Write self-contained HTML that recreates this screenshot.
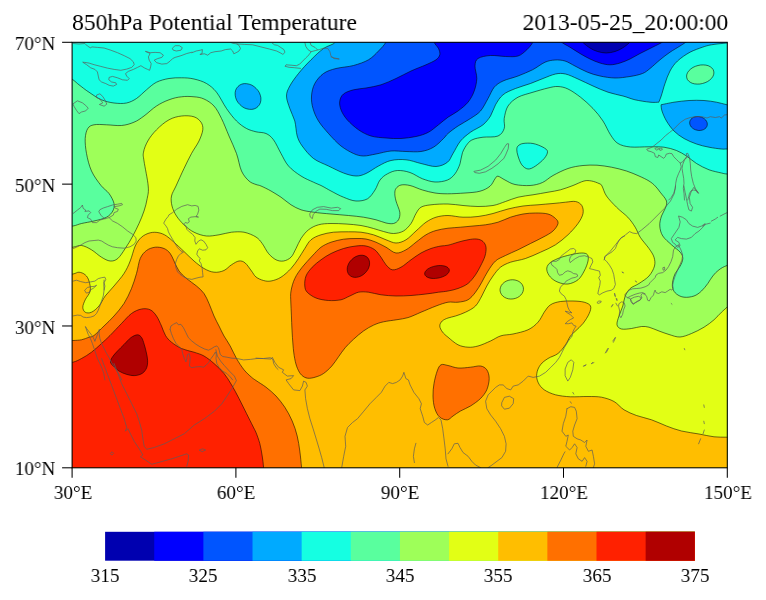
<!DOCTYPE html>
<html><head><meta charset="utf-8"><title>850hPa Potential Temperature</title>
<style>
html,body{margin:0;padding:0;background:#fff;}
body{width:766px;height:600px;position:relative;overflow:hidden;font-family:"Liberation Serif",serif;color:#000;}
svg{position:absolute;left:0;top:0;}
.t,.xl,.yl,.cl{will-change:transform;}
.xl,.cl{transform:scaleX(0.98);transform-origin:center center;}
.yl{transform:scaleX(0.98);transform-origin:right center;}
.t{position:absolute;font-size:24px;line-height:28px;white-space:nowrap;}
.xl{position:absolute;top:480.5px;width:100px;text-align:center;font-size:19.5px;line-height:24px;white-space:nowrap;}
.yl{position:absolute;left:0;width:55.4px;text-align:right;font-size:19.5px;line-height:24px;white-space:nowrap;}
.cl{position:absolute;top:563.8px;width:100px;text-align:center;font-size:19.5px;line-height:24px;white-space:nowrap;}
</style></head><body>
<svg width="766" height="600" viewBox="0 0 766 600">
<defs><clipPath id="cp"><rect x="72.1" y="42.3" width="655.1999999999999" height="425.5"/></clipPath></defs>
<g clip-path="url(#cp)">
<rect x="60" y="30" width="680" height="450" fill="#15FFE2"/>
<g stroke="#000" stroke-width="0.55" stroke-linejoin="round">
<path d="M60.0 70.0C62.2 71.6 69.8 77.3 73.0 79.8C76.2 82.2 76.3 82.7 79.0 84.8C81.7 86.8 85.2 89.8 89.0 92.2C92.8 94.8 97.3 98.0 101.5 99.8C105.7 101.5 109.8 102.5 114.0 103.0C118.2 103.5 122.8 103.8 126.5 103.0C130.2 102.2 133.2 100.7 136.5 98.5C139.8 96.3 143.2 92.5 146.5 89.8C149.8 87.0 152.8 84.1 156.5 82.2C160.2 80.4 164.8 79.2 169.0 78.5C173.2 77.8 177.3 77.7 181.5 77.8C185.7 77.8 189.8 78.0 194.0 79.0C198.2 80.0 202.8 81.3 206.5 83.5C210.2 85.7 213.2 88.1 216.5 92.2C219.8 96.4 223.2 103.7 226.5 108.5C229.8 113.3 233.2 117.7 236.5 121.0C239.8 124.3 243.2 126.7 246.5 128.5C249.8 130.3 252.8 130.9 256.0 131.8C259.2 132.6 263.1 132.2 266.0 133.5C268.9 134.8 271.0 136.4 273.5 139.8C276.0 143.1 278.5 149.1 281.0 153.5C283.5 157.9 285.2 162.2 288.5 166.0C291.8 169.8 296.8 173.3 301.0 176.0C305.2 178.7 310.0 180.6 313.5 182.2C317.0 183.9 319.1 184.5 322.0 186.0C324.9 187.5 327.4 189.1 331.0 191.0C334.6 192.9 339.3 195.6 343.5 197.2C347.7 198.9 352.0 200.8 356.0 201.0C360.0 201.2 364.3 200.6 367.5 198.8C370.7 196.9 372.9 193.1 375.0 190.0C377.1 186.9 377.9 182.7 380.0 180.0C382.1 177.3 384.6 175.3 387.5 173.8C390.4 172.2 393.8 170.7 397.5 170.5C401.2 170.3 405.8 171.1 410.0 172.5C414.2 173.9 418.3 177.2 422.5 178.8C426.7 180.3 430.8 181.8 435.0 182.0C439.2 182.2 444.2 181.4 447.5 180.0C450.8 178.6 452.9 176.5 455.0 173.8C457.1 171.0 458.8 167.3 460.0 163.8C461.2 160.2 461.2 155.8 462.5 152.5C463.8 149.2 465.8 145.9 467.5 143.8C469.2 141.6 470.4 140.6 473.0 139.5C475.6 138.4 478.8 137.8 483.0 137.2C487.2 136.7 494.5 137.5 498.0 136.0C501.5 134.5 503.2 131.4 504.2 128.5C505.3 125.6 503.6 122.2 504.2 118.5C504.9 114.8 505.7 109.5 508.0 106.0C510.3 102.5 513.8 99.5 518.0 97.2C522.2 95.0 528.0 93.8 533.0 92.2C538.0 90.7 543.8 89.0 548.0 88.0C552.2 87.0 554.7 86.3 558.0 86.5C561.3 86.7 564.2 87.2 568.0 89.0C571.8 90.8 576.3 94.0 580.5 97.2C584.7 100.5 589.2 104.5 593.0 108.5C596.8 112.5 600.1 116.6 603.0 121.0C605.9 125.4 608.0 131.0 610.5 134.8C613.0 138.5 614.7 141.5 618.0 143.5C621.3 145.5 625.3 146.5 630.5 147.0C635.7 147.5 643.4 146.7 649.0 146.8C654.6 146.8 659.4 146.6 664.0 147.2C668.6 147.9 672.8 149.0 676.5 150.5C680.2 152.0 683.2 153.8 686.5 156.0C689.8 158.2 692.8 161.2 696.5 163.5C700.2 165.8 704.8 168.2 709.0 169.8C713.2 171.3 718.5 172.3 721.5 173.0C724.5 173.7 723.9 173.7 727.0 174.0C730.1 174.3 737.8 174.8 740.0 175.0L740.0 480.0L60.0 480.0Z" fill="#59FF9E"/>
<path d="M713.7 71.1C714.0 72.3 714.0 73.6 713.6 74.8C713.2 76.1 712.4 77.4 711.4 78.5C710.4 79.6 709.0 80.7 707.5 81.6C706.0 82.4 704.2 83.1 702.5 83.5C700.8 84.0 698.9 84.2 697.2 84.1C695.5 84.1 693.7 83.8 692.3 83.3C690.9 82.7 689.6 82.0 688.7 81.1C687.7 80.2 687.0 79.0 686.8 77.9C686.5 76.7 686.5 75.4 686.9 74.2C687.3 72.9 688.1 71.6 689.1 70.5C690.1 69.4 691.5 68.3 693.0 67.4C694.5 66.6 696.3 65.9 698.0 65.5C699.7 65.0 701.6 64.8 703.3 64.9C705.0 64.9 706.8 65.2 708.2 65.7C709.6 66.3 710.9 67.0 711.8 67.9C712.8 68.8 713.5 70.0 713.7 71.1Z" fill="#59FF9E"/>
<path d="M60.0 227.0C62.2 226.8 69.4 226.6 73.0 226.0C76.6 225.4 78.0 224.3 81.5 223.5C85.0 222.7 89.8 222.0 94.0 221.0C98.2 220.0 103.4 218.9 106.5 217.2C109.6 215.6 111.5 213.3 112.8 211.0C114.0 208.7 114.6 206.4 114.0 203.5C113.4 200.6 111.2 196.5 109.0 193.5C106.8 190.5 103.9 189.2 101.0 185.5C98.1 181.8 93.9 176.3 91.5 171.0C89.1 165.7 87.5 158.9 86.5 153.5C85.5 148.1 85.0 142.7 85.2 138.5C85.5 134.3 86.3 130.8 87.8 128.5C89.2 126.2 90.9 125.4 94.0 124.8C97.1 124.1 101.9 124.6 106.5 124.8C111.1 124.9 116.9 125.9 121.5 125.5C126.1 125.1 130.2 123.8 134.0 122.2C137.8 120.7 140.2 118.7 144.0 116.0C147.8 113.3 152.3 108.7 156.5 106.0C160.7 103.3 164.8 101.3 169.0 99.8C173.2 98.2 177.3 97.2 181.5 96.8C185.7 96.2 190.2 96.4 194.0 96.8C197.8 97.1 200.7 97.5 204.0 99.0C207.3 100.5 211.1 102.8 214.0 106.0C216.9 109.2 219.0 113.5 221.5 118.5C224.0 123.5 226.5 130.2 229.0 136.0C231.5 141.8 234.4 147.7 236.5 153.5C238.6 159.3 239.4 166.4 241.5 171.0C243.6 175.6 246.6 178.8 249.0 181.0C251.4 183.2 254.0 183.7 256.0 184.5C258.0 185.3 258.5 184.9 261.0 186.0C263.5 187.1 267.7 189.1 271.0 191.0C274.3 192.9 277.7 195.0 281.0 197.2C284.3 199.5 287.7 202.7 291.0 204.8C294.3 206.8 297.2 208.5 301.0 209.8C304.8 211.0 308.5 211.5 313.5 212.2C318.5 213.0 325.2 213.5 331.0 214.0C336.8 214.5 343.1 215.0 348.5 215.5C353.9 216.0 358.9 216.5 363.5 217.2C368.1 218.0 372.2 218.8 376.0 219.8C379.8 220.7 383.1 222.4 386.0 223.0C388.9 223.6 391.4 224.0 393.5 223.5C395.6 223.0 397.5 221.6 398.5 219.8C399.5 217.9 400.2 215.4 399.8 212.2C399.3 209.1 396.8 204.1 396.0 201.0C395.2 197.9 394.8 195.6 394.8 193.5C394.8 191.4 395.0 189.9 396.0 188.5C397.0 187.1 398.7 185.5 401.0 185.0C403.3 184.5 406.4 184.7 410.0 185.5C413.6 186.3 418.3 188.8 422.5 190.0C426.7 191.2 430.8 192.4 435.0 193.0C439.2 193.6 442.5 193.8 447.5 193.8C452.5 193.8 459.6 193.4 465.0 193.0C470.4 192.6 475.8 192.4 480.0 191.2C484.2 190.1 487.5 188.3 490.0 186.2C492.5 184.2 493.7 180.4 495.0 178.8C496.3 177.1 496.3 176.0 498.0 176.2C499.7 176.5 502.2 178.6 505.0 180.0C507.8 181.4 510.8 183.6 515.0 184.5C519.2 185.4 525.4 185.8 530.0 185.5C534.6 185.2 538.7 184.2 542.5 182.5C546.3 180.8 548.8 177.8 553.0 175.5C557.2 173.2 563.0 170.2 568.0 168.5C573.0 166.8 578.2 166.0 583.0 165.5C587.8 165.0 592.2 165.0 597.0 165.2C601.8 165.5 606.6 166.3 611.5 167.2C616.4 168.2 621.9 169.5 626.5 171.0C631.1 172.5 635.2 174.3 639.0 176.0C642.8 177.7 646.3 179.3 649.0 181.0C651.7 182.7 653.4 184.1 655.2 186.0C657.1 187.9 658.4 189.8 660.2 192.2C662.1 194.8 665.7 198.3 666.5 201.0C667.3 203.7 666.1 206.0 665.2 208.5C664.4 211.0 662.4 213.1 661.5 216.0C660.6 218.9 659.5 222.7 659.8 226.0C660.0 229.3 660.8 232.9 662.8 236.0C664.7 239.1 668.6 242.0 671.5 244.8C674.4 247.5 678.4 250.0 680.2 252.2C682.1 254.5 682.8 256.2 682.8 258.5C682.8 260.8 681.5 263.5 680.2 266.0C679.0 268.5 676.5 271.0 675.2 273.5C674.0 276.0 673.2 278.5 672.8 281.0C672.3 283.5 672.1 286.3 672.8 288.5C673.4 290.7 674.6 292.5 676.5 294.0C678.4 295.5 681.1 296.9 684.0 297.2C686.9 297.6 691.1 297.0 694.0 296.0C696.9 295.0 699.2 293.1 701.5 291.0C703.8 288.9 705.9 286.0 707.8 283.5C709.6 281.0 710.9 278.3 712.8 276.0C714.6 273.7 716.6 271.5 719.0 269.8C721.4 268.0 723.5 266.8 727.0 265.5C730.5 264.2 737.8 262.6 740.0 262.0L740.0 480.0L60.0 480.0Z" fill="#9EFF59"/>
<path d="M60.0 249.0C62.2 248.7 69.4 247.8 73.0 247.2C76.6 246.7 78.4 245.1 81.5 245.5C84.6 245.9 88.2 247.8 91.5 249.8C94.8 251.7 98.4 255.4 101.5 257.2C104.6 259.1 107.5 260.8 110.2 261.0C113.0 261.2 115.2 260.6 117.8 258.5C120.2 256.4 122.8 252.2 125.2 248.5C127.8 244.8 130.5 240.2 132.8 236.0C135.0 231.8 137.1 227.7 139.0 223.5C140.9 219.3 142.6 215.2 144.0 211.0C145.4 206.8 146.5 202.7 147.2 198.5C148.0 194.3 148.8 192.2 148.2 186.0C147.7 179.8 144.8 166.6 144.0 161.0C143.2 155.4 142.9 155.6 143.5 152.2C144.1 148.9 145.6 144.8 147.8 141.0C149.9 137.2 153.0 133.3 156.5 129.8C160.0 126.2 164.8 122.0 169.0 119.8C173.2 117.5 177.3 116.5 181.5 116.0C185.7 115.5 190.8 115.7 194.0 116.8C197.2 117.8 199.5 120.1 201.0 122.2C202.5 124.4 203.1 126.6 202.8 129.8C202.4 132.9 200.9 137.0 199.0 141.0C197.1 145.0 194.0 148.9 191.5 153.5C189.0 158.1 186.6 163.1 184.0 168.5C181.4 173.9 178.1 181.4 176.0 186.0C173.9 190.6 172.2 192.7 171.5 196.0C170.8 199.3 171.2 202.7 172.0 206.0C172.8 209.3 174.5 212.9 176.5 216.0C178.5 219.1 181.1 222.0 184.0 224.8C186.9 227.5 190.2 230.4 194.0 232.2C197.8 234.1 202.3 235.6 206.5 236.0C210.7 236.4 214.8 235.4 219.0 234.8C223.2 234.1 227.3 232.7 231.5 232.2C235.7 231.8 239.9 231.5 244.0 232.2C248.1 233.0 253.0 235.1 256.0 237.0C259.0 238.9 260.2 240.8 262.2 243.5C264.3 246.2 266.2 250.8 268.5 253.5C270.8 256.2 273.5 258.5 276.0 259.8C278.5 261.0 281.0 261.4 283.5 261.0C286.0 260.6 288.9 259.3 291.0 257.2C293.1 255.2 294.3 251.6 296.0 248.5C297.7 245.4 298.9 241.6 301.0 238.5C303.1 235.4 305.6 232.0 308.5 229.8C311.4 227.5 314.8 225.8 318.5 224.8C322.2 223.7 326.4 223.6 331.0 223.5C335.6 223.4 341.0 223.7 346.0 224.0C351.0 224.3 356.4 224.8 361.0 225.5C365.6 226.2 369.8 227.5 373.5 228.5C377.2 229.5 380.2 230.7 383.5 231.5C386.8 232.3 390.2 233.6 393.5 233.5C396.8 233.4 400.6 232.7 403.5 231.0C406.4 229.3 408.9 226.4 411.0 223.5C413.1 220.6 414.3 216.2 416.0 213.5C417.7 210.8 418.5 208.7 421.0 207.2C423.5 205.8 426.5 205.3 431.0 204.8C435.5 204.2 442.7 203.9 448.0 204.0C453.3 204.1 458.0 205.1 463.0 205.5C468.0 205.9 473.0 206.5 478.0 206.5C483.0 206.5 488.4 206.3 493.0 205.5C497.6 204.7 501.3 202.9 505.5 201.5C509.7 200.1 513.4 198.4 518.0 197.2C522.6 196.1 528.0 195.6 533.0 194.8C538.0 193.9 543.4 193.1 548.0 192.2C552.6 191.4 556.3 190.9 560.5 189.8C564.7 188.6 569.1 187.0 573.0 185.5C576.9 184.0 580.9 181.8 584.0 181.0C587.1 180.2 589.0 180.6 591.5 181.0C594.0 181.4 597.2 182.7 599.0 183.5C600.8 184.3 600.8 183.9 602.0 186.0C603.2 188.1 604.1 192.5 606.5 196.0C608.9 199.5 613.0 203.7 616.5 207.2C620.0 210.8 624.6 213.9 627.8 217.2C630.9 220.6 633.2 223.9 635.2 227.2C637.3 230.6 638.0 233.7 640.2 237.2C642.5 240.8 646.7 245.2 649.0 248.5C651.3 251.8 653.1 254.3 654.0 257.2C654.9 260.2 655.3 262.9 654.5 266.0C653.7 269.1 651.6 273.1 649.0 276.0C646.4 278.9 642.1 281.4 639.0 283.5C635.9 285.6 632.5 286.4 630.2 288.5C628.0 290.6 626.5 293.1 625.2 296.0C624.0 298.9 623.8 302.7 622.8 306.0C621.7 309.3 620.0 312.9 619.0 316.0C618.0 319.1 616.6 322.6 617.0 324.8C617.4 326.9 619.1 328.4 621.5 329.0C623.9 329.6 628.2 328.9 631.5 328.5C634.8 328.1 638.6 326.7 641.5 326.5C644.4 326.3 646.1 326.5 649.0 327.2C651.9 328.0 655.7 329.8 659.0 331.0C662.3 332.2 665.5 333.5 669.0 334.5C672.5 335.5 676.2 337.2 680.0 337.0C683.8 336.8 687.5 335.1 691.5 333.5C695.5 331.9 700.2 329.5 704.0 327.2C707.8 325.0 711.1 322.2 714.0 319.8C716.9 317.2 719.3 314.3 721.5 312.2C723.7 310.2 723.9 310.0 727.0 307.2C730.1 304.5 737.8 297.9 740.0 296.0L740.0 480.0L60.0 480.0Z" fill="#E2FF15"/>
<path d="M523.4 287.8C523.6 289.0 523.4 290.3 523.0 291.5C522.6 292.7 521.9 294.0 520.9 295.0C520.0 296.0 518.7 296.9 517.4 297.6C516.1 298.2 514.6 298.7 513.1 298.9C511.6 299.1 510.0 299.1 508.5 298.8C507.1 298.5 505.6 298.0 504.5 297.3C503.3 296.6 502.2 295.6 501.5 294.5C500.8 293.5 500.3 292.2 500.1 291.0C499.9 289.8 500.1 288.5 500.5 287.3C500.9 286.1 501.6 284.8 502.6 283.8C503.5 282.8 504.8 281.9 506.1 281.2C507.4 280.6 508.9 280.1 510.4 279.9C511.9 279.7 513.5 279.7 515.0 280.0C516.4 280.3 517.9 280.8 519.0 281.5C520.2 282.2 521.3 283.2 522.0 284.3C522.7 285.3 523.2 286.6 523.4 287.8Z" fill="#9EFF59"/>
<path d="M546.8 269.8C546.5 267.5 547.4 265.4 549.2 263.5C551.1 261.6 554.5 260.0 558.0 258.5C561.5 257.0 566.5 255.7 570.5 254.8C574.5 253.8 578.9 253.0 581.8 253.0C584.6 253.0 586.5 253.4 587.5 254.8C588.5 256.1 588.5 258.3 588.0 261.0C587.5 263.7 585.9 267.9 584.2 271.0C582.6 274.1 580.7 277.6 578.0 279.8C575.3 281.9 571.3 283.6 568.0 284.0C564.7 284.4 560.9 283.4 558.0 282.2C555.1 281.1 552.4 279.3 550.5 277.2C548.6 275.2 547.0 272.0 546.8 269.8Z" fill="#9EFF59"/>
<path d="M60.0 276.0C62.2 275.7 69.8 274.6 73.0 274.0C76.2 273.4 77.0 272.1 79.0 272.2C81.0 272.4 83.6 273.3 85.2 274.8C86.9 276.2 88.2 278.3 89.0 281.0C89.8 283.7 90.9 287.9 90.2 291.0C89.6 294.1 86.5 297.0 85.2 299.8C84.0 302.5 82.8 305.2 82.8 307.2C82.8 309.3 83.8 311.4 85.2 312.2C86.7 313.1 89.2 313.3 91.5 312.2C93.8 311.2 96.7 308.7 99.0 306.0C101.3 303.3 102.8 299.3 105.2 296.0C107.8 292.7 110.9 289.8 114.0 286.0C117.1 282.2 121.3 277.7 124.0 273.5C126.7 269.3 128.4 265.6 130.2 261.0C132.1 256.4 133.4 250.0 135.2 246.0C137.1 242.0 139.0 239.5 141.5 237.2C144.0 235.0 147.3 233.5 150.2 232.8C153.2 232.0 156.3 232.2 159.0 232.8C161.7 233.3 164.0 234.4 166.5 236.0C169.0 237.6 171.1 239.7 174.0 242.2C176.9 244.8 180.7 248.4 184.0 251.5C187.3 254.6 190.7 258.2 194.0 261.0C197.3 263.8 200.7 266.6 204.0 268.5C207.3 270.4 210.7 271.9 214.0 272.2C217.3 272.6 221.1 271.8 224.0 270.5C226.9 269.2 229.0 266.3 231.5 264.8C234.0 263.2 236.7 261.3 239.0 261.0C241.3 260.7 243.2 261.3 245.2 263.0C247.3 264.7 249.7 268.7 251.5 271.0C253.3 273.3 254.0 275.4 256.0 277.0C258.0 278.6 261.0 279.8 263.5 280.5C266.0 281.2 268.1 281.5 271.0 281.0C273.9 280.5 277.7 279.3 281.0 277.2C284.3 275.2 288.1 271.6 291.0 268.5C293.9 265.4 296.2 261.8 298.5 258.5C300.8 255.2 302.7 251.6 304.8 248.5C306.8 245.4 308.3 242.0 311.0 239.8C313.7 237.5 317.2 236.0 321.0 234.8C324.8 233.5 328.9 232.8 333.5 232.2C338.1 231.8 343.9 231.8 348.5 231.8C353.1 231.8 356.8 231.8 361.0 232.2C365.2 232.8 369.3 233.5 373.5 234.8C377.7 236.0 382.2 238.4 386.0 239.8C389.8 241.1 392.7 243.0 396.0 243.0C399.3 243.0 402.7 241.8 406.0 239.8C409.3 237.8 412.7 233.9 416.0 231.0C419.3 228.1 422.7 224.5 426.0 222.2C429.3 220.0 432.3 218.4 436.0 217.2C439.7 216.1 443.5 215.5 448.0 215.5C452.5 215.5 458.0 217.1 463.0 217.2C468.0 217.4 473.0 217.1 478.0 216.5C483.0 215.9 488.0 214.8 493.0 213.5C498.0 212.2 503.0 210.2 508.0 209.0C513.0 207.8 518.0 206.7 523.0 206.0C528.0 205.3 533.0 205.2 538.0 204.8C543.0 204.3 548.4 203.9 553.0 203.5C557.6 203.1 561.8 202.6 565.5 202.2C569.2 201.9 572.8 201.0 575.5 201.5C578.2 202.0 580.5 203.5 581.8 205.5C583.0 207.5 583.6 210.5 583.0 213.5C582.4 216.5 580.5 220.0 578.0 223.5C575.5 227.0 571.8 231.2 568.0 234.8C564.2 238.3 560.1 241.8 555.5 244.8C550.9 247.7 545.5 250.0 540.5 252.2C535.5 254.5 530.5 256.8 525.5 258.5C520.5 260.2 514.7 260.8 510.5 262.2C506.3 263.7 503.4 265.0 500.5 267.2C497.6 269.5 495.3 272.9 493.0 276.0C490.7 279.1 488.6 282.7 486.8 286.0C484.9 289.3 483.6 292.7 481.8 296.0C479.9 299.3 478.2 303.3 475.5 306.0C472.8 308.7 468.8 310.6 465.5 312.2C462.2 313.9 458.4 315.0 455.5 316.0C452.6 317.0 450.2 317.2 448.0 318.0C445.8 318.8 443.6 319.7 442.2 321.0C440.9 322.3 439.7 324.2 439.8 326.0C439.8 327.8 441.1 330.1 442.5 332.0C443.9 333.9 445.4 335.1 448.0 337.2C450.6 339.4 454.7 343.1 458.0 344.8C461.3 346.4 464.7 347.0 468.0 347.2C471.3 347.5 474.2 347.0 478.0 346.0C481.8 345.0 486.7 342.7 490.5 341.0C494.3 339.3 497.2 336.9 501.0 335.8C504.8 334.6 508.5 335.0 513.0 334.0C517.5 333.0 523.8 331.7 528.0 329.8C532.2 327.8 535.3 325.2 538.0 322.2C540.7 319.3 542.2 315.2 544.2 312.2C546.3 309.3 547.8 306.5 550.5 304.8C553.2 303.0 556.8 302.1 560.5 301.5C564.2 300.9 569.0 300.9 573.0 301.0C577.0 301.1 581.3 301.4 584.2 302.2C587.2 303.1 589.7 304.1 590.5 306.0C591.3 307.9 590.5 310.6 589.2 313.5C588.0 316.4 585.3 320.6 583.0 323.5C580.7 326.4 577.6 328.9 575.5 331.0C573.4 333.1 572.2 333.7 570.5 336.0C568.8 338.3 567.6 341.8 565.5 344.8C563.4 347.7 560.9 351.2 558.0 353.5C555.1 355.8 550.9 356.6 548.0 358.5C545.1 360.4 542.4 362.2 540.5 364.8C538.6 367.2 537.2 370.6 536.8 373.5C536.3 376.4 536.8 379.5 538.0 382.2C539.2 385.0 541.3 387.7 544.2 389.8C547.2 391.8 551.1 393.6 555.5 394.8C559.9 395.9 565.1 396.5 570.5 396.8C575.9 397.0 582.8 396.4 588.0 396.5C593.2 396.6 597.2 396.4 601.5 397.2C605.8 398.1 610.2 399.4 614.0 401.5C617.8 403.6 620.2 407.4 624.0 409.8C627.8 412.1 631.9 413.8 636.5 415.5C641.1 417.2 646.5 418.0 651.5 419.8C656.5 421.5 661.5 424.1 666.5 426.0C671.5 427.9 676.1 429.7 681.5 431.0C686.9 432.3 693.6 433.0 699.0 434.0C704.4 435.0 709.3 436.2 714.0 436.8C718.7 437.3 722.7 437.1 727.0 437.2C731.3 437.4 737.8 437.5 740.0 437.5L740.0 480.0L60.0 480.0Z" fill="#FFBE00"/>
<path d="M60.0 341.0C62.2 340.9 69.4 340.7 73.0 340.5C76.6 340.3 78.8 340.3 81.5 339.8C84.2 339.2 86.9 338.0 89.0 337.2C91.1 336.5 91.5 337.4 94.0 335.5C96.5 333.6 100.7 329.2 104.0 326.0C107.3 322.8 110.7 319.8 114.0 316.0C117.3 312.2 121.1 308.1 124.0 303.5C126.9 298.9 129.4 293.5 131.5 288.5C133.6 283.5 135.0 278.5 136.5 273.5C138.0 268.5 138.6 262.3 140.2 258.5C141.9 254.7 144.0 252.4 146.5 250.5C149.0 248.6 152.3 247.6 155.2 247.2C158.2 246.9 161.5 247.5 164.0 248.5C166.5 249.5 168.6 251.4 170.2 253.5C171.9 255.6 172.5 258.1 174.0 261.0C175.5 263.9 176.9 268.1 179.0 271.0C181.1 273.9 183.6 276.0 186.5 278.5C189.4 281.0 193.6 283.5 196.5 286.0C199.4 288.5 201.9 290.6 204.0 293.5C206.1 296.4 207.3 299.8 209.0 303.5C210.7 307.2 212.3 312.2 214.0 316.0C215.7 319.8 217.3 322.7 219.0 326.0C220.7 329.3 222.1 332.7 224.0 336.0C225.9 339.3 228.2 342.2 230.2 346.0C232.3 349.8 234.2 354.5 236.5 358.5C238.8 362.5 241.5 366.6 244.0 369.8C246.5 372.9 249.5 375.5 251.5 377.2C253.5 379.0 253.6 378.8 256.0 380.5C258.4 382.2 262.7 384.7 266.0 387.2C269.3 389.8 272.9 392.7 276.0 396.0C279.1 399.3 282.0 403.1 284.8 407.2C287.5 411.4 290.2 416.2 292.2 421.0C294.3 425.8 296.0 431.0 297.2 436.0C298.5 441.0 299.0 445.8 299.8 451.0C300.5 456.2 301.1 462.4 301.5 467.2C301.9 472.1 301.9 477.9 302.0 480.0L60.0 480.0Z" fill="#FF7000"/>
<path d="M315.1 377.2C312.5 378.0 309.8 378.5 307.6 378.2C305.4 377.9 303.4 376.8 301.7 375.2C300.0 373.6 298.7 371.3 297.5 368.5C296.3 365.7 295.4 362.4 294.7 358.5C293.9 354.6 293.4 349.8 293.0 345.1C292.6 340.4 292.3 335.1 292.0 330.1C291.7 325.1 291.6 319.8 291.4 315.1C291.2 310.4 290.9 306.0 290.8 302.0C290.7 298.0 290.3 294.9 291.0 291.0C291.7 287.1 292.9 282.5 294.8 278.5C296.6 274.5 299.3 271.0 302.2 267.2C305.2 263.5 309.1 259.3 312.2 256.0C315.4 252.7 317.9 249.5 321.0 247.2C324.1 245.0 327.2 243.6 331.0 242.2C334.8 240.9 339.3 239.9 343.5 239.2C347.7 238.6 352.2 238.5 356.0 238.5C359.8 238.5 362.7 238.4 366.0 239.0C369.3 239.6 372.7 240.9 376.0 242.2C379.3 243.6 382.7 245.5 386.0 247.2C389.3 249.0 392.7 252.6 396.0 253.0C399.3 253.4 402.7 251.5 406.0 249.8C409.3 248.0 412.7 244.8 416.0 242.2C419.3 239.8 422.7 236.7 426.0 234.8C429.3 232.8 432.3 231.6 436.0 230.5C439.7 229.4 443.9 228.8 448.0 228.2C452.1 227.7 456.3 227.6 460.5 227.2C464.7 226.9 468.8 226.4 473.0 226.0C477.2 225.6 481.3 225.4 485.5 224.8C489.7 224.1 493.8 223.5 498.0 222.2C502.2 221.0 506.3 218.6 510.5 217.2C514.7 215.9 518.8 214.7 523.0 214.0C527.2 213.3 531.3 213.0 535.5 213.0C539.7 213.0 544.7 213.1 548.0 214.0C551.3 214.9 553.8 216.9 555.5 218.5C557.2 220.1 558.4 221.4 558.0 223.5C557.6 225.6 555.5 228.7 553.0 231.0C550.5 233.3 546.8 235.2 543.0 237.2C539.2 239.3 534.7 241.4 530.5 243.5C526.3 245.6 522.2 247.8 518.0 249.8C513.8 251.8 509.2 253.6 505.5 255.5C501.8 257.4 498.4 258.4 495.5 261.0C492.6 263.6 490.3 267.5 488.0 271.0C485.7 274.5 483.8 278.7 481.8 282.2C479.7 285.8 477.8 289.3 475.5 292.2C473.2 295.2 470.9 298.1 468.0 299.8C465.1 301.4 461.3 301.8 458.0 302.2C454.7 302.7 451.7 301.6 448.0 302.2C444.3 302.9 440.5 304.3 436.0 306.0C431.5 307.7 425.7 310.3 421.0 312.2C416.3 314.2 412.0 316.4 408.0 317.6C404.0 318.8 401.1 319.0 397.0 319.7C392.9 320.4 387.5 320.9 383.6 321.8C379.7 322.6 376.9 323.6 373.6 325.1C370.3 326.6 367.0 328.5 363.6 330.9C360.2 333.3 356.6 336.5 353.5 339.3C350.4 342.1 347.7 344.8 345.2 347.7C342.7 350.6 340.7 353.8 338.5 356.8C336.3 359.9 334.3 363.2 331.8 366.0C329.3 368.8 326.2 371.7 323.4 373.6C320.6 375.5 317.7 376.4 315.1 377.2Z" fill="#FF7000"/>
<path d="M441.0 364.8C439.2 365.7 438.4 367.9 437.2 371.0C436.1 374.1 434.7 379.3 434.0 383.5C433.3 387.7 432.9 391.8 433.0 396.0C433.1 400.2 433.6 405.0 434.8 408.5C435.9 412.0 437.6 415.4 439.8 417.2C441.9 419.1 445.3 420.0 447.5 419.8C449.7 419.5 450.8 417.5 453.0 416.0C455.2 414.5 457.6 412.7 460.5 411.0C463.4 409.3 467.2 408.1 470.5 406.0C473.8 403.9 477.8 401.2 480.5 398.5C483.2 395.8 485.3 393.1 486.8 389.8C488.2 386.4 489.2 381.8 489.2 378.5C489.2 375.2 488.2 371.8 486.8 369.8C485.3 367.7 483.2 366.4 480.5 366.0C477.8 365.6 474.2 366.9 470.5 367.2C466.8 367.6 461.8 368.3 458.0 368.0C454.2 367.7 450.8 366.0 448.0 365.5C445.2 365.0 442.8 363.8 441.0 364.8Z" fill="#FF7000"/>
<path d="M60.0 365.0C62.2 364.5 69.4 363.3 73.0 362.2C76.6 361.2 78.4 360.2 81.5 358.5C84.6 356.8 88.2 354.8 91.5 352.2C94.8 349.8 98.4 346.3 101.5 343.5C104.6 340.7 106.7 338.8 110.0 335.5C113.3 332.2 117.9 327.2 121.5 323.5C125.1 319.8 128.2 315.9 131.5 313.5C134.8 311.1 138.4 309.6 141.5 309.0C144.6 308.4 147.8 308.6 150.2 309.8C152.8 310.9 154.6 313.3 156.5 316.0C158.4 318.7 160.0 322.8 161.5 326.0C163.0 329.2 163.8 332.8 165.5 335.5C167.2 338.2 168.8 340.1 171.5 342.2C174.2 344.4 177.8 346.8 181.5 348.5C185.2 350.2 190.2 351.0 194.0 352.2C197.8 353.5 200.7 354.1 204.0 356.0C207.3 357.9 210.7 360.6 214.0 363.5C217.3 366.4 221.1 370.0 224.0 373.5C226.9 377.0 229.0 380.6 231.5 384.8C234.0 388.9 236.5 393.7 239.0 398.5C241.5 403.3 244.2 408.9 246.5 413.5C248.8 418.1 251.2 422.8 252.8 426.0C254.3 429.2 254.8 429.6 256.0 432.5C257.2 435.4 258.7 439.6 259.8 443.5C260.8 447.4 261.6 452.0 262.2 456.0C262.9 460.0 263.2 463.2 263.5 467.2C263.8 471.2 263.9 477.9 264.0 480.0L60.0 480.0Z" fill="#FF2100"/>
<path d="M304.8 286.0C304.5 283.3 304.8 279.1 306.0 276.0C307.2 272.9 309.8 270.0 312.2 267.2C314.8 264.5 317.9 262.0 321.0 259.8C324.1 257.5 327.2 255.4 331.0 253.5C334.8 251.6 339.3 249.8 343.5 248.5C347.7 247.2 352.2 246.4 356.0 246.0C359.8 245.6 362.9 245.4 366.0 246.0C369.1 246.6 372.2 247.9 374.8 249.8C377.2 251.6 379.1 254.8 381.0 257.2C382.9 259.8 384.1 262.7 386.0 264.8C387.9 266.8 389.8 269.3 392.2 269.8C394.8 270.2 397.9 268.9 401.0 267.2C404.1 265.6 407.7 262.1 411.0 259.8C414.3 257.4 417.7 254.9 421.0 253.0C424.3 251.1 427.7 249.7 431.0 248.5C434.3 247.3 438.2 246.5 441.0 246.0C443.8 245.5 445.2 245.9 448.0 245.2C450.8 244.6 454.7 243.2 458.0 242.2C461.3 241.3 464.9 240.3 468.0 239.8C471.1 239.2 474.2 238.7 476.8 239.0C479.2 239.3 481.5 240.1 483.0 241.5C484.5 242.9 485.7 244.8 486.0 247.2C486.3 249.7 485.9 252.9 485.0 256.0C484.1 259.1 482.1 262.9 480.5 266.0C478.9 269.1 477.6 271.8 475.5 274.8C473.4 277.7 470.9 281.2 468.0 283.5C465.1 285.8 461.3 287.2 458.0 288.5C454.7 289.8 451.2 290.4 448.0 291.0C444.8 291.6 442.2 291.8 438.5 292.2C434.8 292.8 430.6 293.5 426.0 294.0C421.4 294.5 416.0 295.2 411.0 295.5C406.0 295.8 401.0 296.1 396.0 296.0C391.0 295.9 385.6 295.4 381.0 294.8C376.4 294.1 372.2 292.7 368.5 292.2C364.8 291.8 361.6 291.6 358.5 292.2C355.4 292.9 352.7 294.8 349.8 296.0C346.8 297.2 344.5 299.0 341.0 299.8C337.5 300.5 332.7 300.8 328.5 300.5C324.3 300.2 319.5 299.4 316.0 298.0C312.5 296.6 309.1 294.2 307.2 292.2C305.4 290.2 305.0 288.7 304.8 286.0Z" fill="#FF2100"/>
<path d="M137.5 334.8C139.3 334.8 140.6 336.1 141.7 337.7C142.8 339.3 143.4 341.9 144.2 344.3C144.9 346.7 145.6 349.2 146.2 351.9C146.8 354.5 147.5 357.6 147.6 360.2C147.7 362.8 147.5 365.5 146.7 367.7C145.8 369.9 144.4 371.9 142.5 373.2C140.6 374.5 137.6 375.4 135.0 375.6C132.4 375.8 129.3 375.1 126.7 374.4C124.0 373.6 121.3 372.5 119.1 371.1C116.9 369.7 114.7 367.6 113.3 366.1C111.9 364.6 110.6 363.4 110.5 361.9C110.4 360.4 111.3 358.7 112.5 356.9C113.7 355.1 115.5 353.1 117.5 351.0C119.5 348.9 122.0 346.5 124.2 344.3C126.4 342.1 128.6 339.3 130.8 337.7C133.0 336.1 135.7 334.8 137.5 334.8Z" fill="#B00000"/>
<path d="M367.5 257.5C368.3 258.4 369.0 259.6 369.3 260.8C369.6 262.1 369.7 263.5 369.5 264.9C369.3 266.3 368.7 267.9 368.0 269.3C367.2 270.6 366.2 272.0 365.0 273.1C363.8 274.3 362.4 275.3 361.0 276.0C359.6 276.7 358.1 277.1 356.7 277.3C355.2 277.5 353.8 277.4 352.6 277.0C351.3 276.6 350.2 275.9 349.3 275.1C348.5 274.2 347.8 273.0 347.5 271.8C347.2 270.5 347.1 269.1 347.3 267.7C347.5 266.3 348.1 264.7 348.8 263.3C349.6 262.0 350.6 260.6 351.8 259.5C353.0 258.3 354.4 257.3 355.8 256.6C357.2 255.9 358.7 255.5 360.1 255.3C361.6 255.1 363.0 255.2 364.2 255.6C365.5 256.0 366.6 256.7 367.5 257.5Z" fill="#B00000"/>
<path d="M449.3 269.8C449.4 270.6 449.3 271.5 448.8 272.3C448.3 273.2 447.5 274.0 446.5 274.8C445.5 275.5 444.1 276.3 442.7 276.8C441.3 277.4 439.6 277.8 438.1 278.1C436.5 278.4 434.8 278.5 433.3 278.5C431.8 278.4 430.3 278.2 429.1 277.9C427.8 277.5 426.8 277.0 426.0 276.3C425.3 275.7 424.8 274.9 424.7 274.2C424.6 273.4 424.7 272.5 425.2 271.7C425.7 270.8 426.5 270.0 427.5 269.2C428.5 268.5 429.9 267.7 431.3 267.2C432.7 266.6 434.4 266.2 435.9 265.9C437.5 265.6 439.2 265.5 440.7 265.5C442.2 265.6 443.7 265.8 444.9 266.1C446.2 266.5 447.2 267.0 448.0 267.7C448.7 268.3 449.2 269.1 449.3 269.8Z" fill="#B00000"/>
<path d="M337.0 30.0C336.8 32.0 337.8 38.9 335.5 42.0C333.2 45.1 327.6 45.5 323.5 48.5C319.4 51.5 315.2 55.6 311.0 59.8C306.8 63.9 302.0 69.1 298.5 73.5C295.0 77.9 291.8 82.2 289.8 86.0C287.8 89.8 286.5 92.2 286.5 96.0C286.5 99.8 288.4 104.3 289.8 108.5C291.1 112.7 293.5 116.4 294.8 121.0C296.0 125.6 296.0 131.8 297.2 136.0C298.5 140.2 299.5 142.2 302.2 146.0C305.0 149.8 309.1 155.2 313.5 158.5C317.9 161.8 323.5 163.6 328.5 166.0C333.5 168.4 338.9 171.3 343.5 173.0C348.1 174.7 352.2 175.9 356.0 176.0C359.8 176.1 362.2 175.2 366.0 173.5C369.8 171.8 374.3 168.2 378.5 166.0C382.7 163.8 386.4 161.5 391.0 160.5C395.6 159.5 401.0 159.2 406.0 159.8C411.0 160.2 416.0 162.4 421.0 163.5C426.0 164.6 431.6 166.7 436.0 166.5C440.4 166.3 444.7 164.4 447.5 162.2C450.3 160.1 450.8 157.0 453.0 153.5C455.2 150.0 457.6 144.5 460.5 141.0C463.4 137.5 466.8 135.0 470.5 132.2C474.2 129.5 479.7 127.5 483.0 124.8C486.3 122.0 488.4 119.3 490.5 116.0C492.6 112.7 493.4 108.3 495.5 104.8C497.6 101.2 499.7 97.5 503.0 94.8C506.3 92.0 510.9 90.4 515.5 88.5C520.1 86.6 525.9 85.2 530.5 83.5C535.1 81.8 538.8 80.1 543.0 78.5C547.2 76.9 551.8 74.8 555.5 74.0C559.2 73.2 561.8 73.2 565.5 74.0C569.2 74.8 573.4 77.0 578.0 79.0C582.6 81.0 588.0 83.8 593.0 86.0C598.0 88.2 603.0 90.6 608.0 92.2C613.0 93.9 618.5 94.8 623.0 96.0C627.5 97.2 630.5 98.7 635.0 99.8C639.5 100.8 646.0 101.8 650.0 102.2C654.0 102.7 657.3 102.2 658.8 102.2C659.2 101.2 660.2 99.1 661.2 96.0C662.3 92.9 663.5 87.7 665.0 83.5C666.5 79.3 667.9 74.8 670.0 71.0C672.1 67.2 674.2 64.1 677.5 61.0C680.8 57.9 685.8 54.5 690.0 52.2C694.2 50.0 698.9 48.5 702.5 47.2C706.1 46.0 707.4 45.5 711.5 44.8C715.6 44.0 722.2 43.5 727.0 43.0C731.8 42.5 737.8 42.2 740.0 42.0L740 30Z" fill="#00AAFF"/>
<path d="M661.0 104.8C663.2 104.3 669.3 103.0 674.0 102.2C678.7 101.5 684.0 100.8 689.0 100.5C694.0 100.2 699.4 100.2 704.0 100.5C708.6 100.8 712.7 101.5 716.5 102.2C720.3 103.0 723.1 103.8 727.0 104.8C730.9 105.7 737.8 107.5 740.0 108.0L740 149C737.8 149.0 730.1 149.0 727.0 149.0C723.9 149.0 724.5 149.3 721.5 149.0C718.5 148.7 713.2 148.1 709.0 147.2C704.8 146.4 700.7 145.5 696.5 144.0C692.3 142.5 687.8 140.7 684.0 138.5C680.2 136.3 676.9 133.9 674.0 131.0C671.1 128.1 668.5 124.3 666.5 121.0C664.5 117.7 662.9 113.7 662.0 111.0C661.1 108.3 661.2 105.8 661.0 104.8Z" fill="#00AAFF"/>
<path d="M258.0 106.5C257.0 107.6 255.6 108.4 254.2 108.9C252.7 109.4 251.0 109.5 249.3 109.3C247.7 109.2 245.9 108.6 244.3 107.9C242.7 107.1 241.1 105.9 239.9 104.6C238.6 103.4 237.4 101.8 236.6 100.2C235.9 98.6 235.3 96.8 235.2 95.2C235.0 93.5 235.1 91.8 235.6 90.3C236.1 88.9 236.9 87.5 238.0 86.5C239.0 85.4 240.4 84.6 241.8 84.1C243.3 83.6 245.0 83.5 246.7 83.7C248.3 83.8 250.1 84.4 251.7 85.1C253.3 85.9 254.9 87.1 256.1 88.4C257.4 89.6 258.6 91.2 259.4 92.8C260.1 94.4 260.7 96.2 260.9 97.8C261.0 99.5 260.9 101.2 260.4 102.7C259.9 104.1 259.1 105.5 258.0 106.5Z" fill="#00AAFF"/>
<path d="M390.0 30.0C389.3 32.0 387.9 38.5 386.0 42.0C384.1 45.5 381.4 48.0 378.5 51.0C375.6 54.0 372.7 57.3 368.5 59.8C364.3 62.2 358.9 64.0 353.5 65.5C348.1 67.0 341.0 67.2 336.0 68.5C331.0 69.8 327.0 71.0 323.5 73.5C320.0 76.0 316.8 79.8 314.8 83.5C312.8 87.2 311.8 91.8 311.5 96.0C311.2 100.2 311.8 104.3 313.0 108.5C314.2 112.7 315.9 116.8 318.5 121.0C321.1 125.2 324.8 129.3 328.5 133.5C332.2 137.7 336.8 142.7 341.0 146.0C345.2 149.3 349.8 151.8 353.5 153.5C357.2 155.2 359.8 155.9 363.5 156.0C367.2 156.1 371.4 154.8 376.0 154.0C380.6 153.2 386.0 151.4 391.0 151.0C396.0 150.6 401.0 151.4 406.0 151.5C411.0 151.6 416.4 152.2 421.0 151.5C425.6 150.8 429.8 149.4 433.5 147.2C437.2 145.1 441.1 140.8 443.5 138.5C445.9 136.2 445.6 135.6 448.0 133.5C450.4 131.4 454.2 128.5 458.0 126.0C461.8 123.5 466.8 121.0 470.5 118.5C474.2 116.0 477.6 114.3 480.5 111.0C483.4 107.7 485.7 102.5 488.0 98.5C490.3 94.5 491.8 90.2 494.2 87.2C496.8 84.3 499.0 82.9 503.0 81.0C507.0 79.1 513.1 77.9 518.0 76.0C522.9 74.1 528.0 72.0 532.5 69.8C537.0 67.5 541.2 63.9 545.0 62.2C548.8 60.6 551.7 60.2 555.0 60.0C558.3 59.8 561.7 60.0 565.0 61.0C568.3 62.0 571.2 64.1 575.0 66.0C578.8 67.9 583.3 70.6 587.5 72.2C591.7 73.9 595.4 75.0 600.0 76.0C604.6 77.0 610.0 77.9 615.0 78.0C620.0 78.1 625.4 77.2 630.0 76.5C634.6 75.8 639.2 74.8 642.5 73.5C645.8 72.2 647.1 70.8 650.0 68.5C652.9 66.2 656.7 62.5 660.0 59.8C663.3 57.0 666.7 54.5 670.0 52.2C673.3 50.0 677.3 47.7 680.0 46.0C682.7 44.3 682.9 44.2 686.2 42.0C689.6 39.8 697.7 34.5 700.0 33.0L700.0 30.0Z" fill="#0055FF"/>
<path d="M707.2 125.4C707.0 126.2 706.6 127.1 706.0 127.8C705.4 128.5 704.6 129.1 703.6 129.6C702.7 130.0 701.6 130.3 700.5 130.4C699.4 130.6 698.2 130.5 697.1 130.2C696.0 130.0 694.8 129.6 693.8 129.0C692.9 128.5 692.0 127.7 691.3 127.0C690.7 126.2 690.2 125.3 689.9 124.4C689.7 123.5 689.6 122.5 689.8 121.6C690.0 120.8 690.4 119.9 691.0 119.2C691.6 118.5 692.4 117.9 693.4 117.4C694.3 117.0 695.4 116.7 696.5 116.6C697.6 116.4 698.8 116.5 699.9 116.8C701.0 117.0 702.2 117.4 703.2 118.0C704.1 118.5 705.0 119.3 705.7 120.0C706.3 120.8 706.8 121.7 707.1 122.6C707.3 123.5 707.4 124.5 707.2 125.4Z" fill="#0055FF"/>
<path d="M430.0 30.0C430.7 32.0 432.6 38.9 434.0 42.0C435.4 45.1 437.5 46.4 438.5 48.5C439.5 50.6 440.2 52.9 439.8 54.8C439.3 56.6 438.3 58.1 436.0 59.8C433.7 61.4 430.2 62.9 426.0 64.8C421.8 66.6 416.0 68.7 411.0 71.0C406.0 73.3 401.0 76.2 396.0 78.5C391.0 80.8 386.0 83.2 381.0 84.8C376.0 86.3 370.6 87.2 366.0 88.0C361.4 88.8 357.2 88.8 353.5 89.8C349.8 90.8 345.8 92.1 343.5 94.0C341.2 95.9 340.2 98.4 339.8 101.0C339.3 103.6 339.8 106.6 341.0 109.8C342.2 112.9 344.3 116.4 347.2 119.8C350.2 123.1 354.5 127.0 358.5 129.8C362.5 132.5 366.4 134.6 371.0 136.0C375.6 137.4 381.0 137.6 386.0 138.0C391.0 138.4 396.0 138.8 401.0 138.5C406.0 138.2 411.4 137.5 416.0 136.5C420.6 135.5 424.8 134.2 428.5 132.2C432.2 130.3 435.2 127.2 438.5 124.8C441.8 122.2 444.8 119.5 448.0 117.2C451.2 115.0 454.7 113.5 458.0 111.0C461.3 108.5 465.3 105.6 468.0 102.2C470.7 98.9 472.8 95.0 474.2 91.0C475.7 87.0 476.6 82.7 476.8 78.5C476.9 74.3 474.8 69.3 475.0 66.0C475.2 62.7 475.4 60.2 478.0 58.5C480.6 56.8 485.9 55.8 490.5 55.5C495.1 55.2 500.9 56.4 505.5 56.5C510.1 56.6 514.5 57.1 518.0 56.0C521.5 54.9 524.2 52.1 526.8 49.8C529.2 47.4 531.1 45.3 533.0 42.0C534.9 38.7 537.2 32.0 538.0 30.0Z" fill="#0000FF"/>
<path d="M545.0 30.0C547.7 32.0 557.1 39.1 561.2 42.0C565.4 44.9 566.9 45.3 570.0 47.2C573.1 49.2 576.7 51.5 580.0 53.5C583.3 55.5 586.7 57.4 590.0 59.0C593.3 60.6 596.7 62.0 600.0 63.0C603.3 64.0 606.7 64.8 610.0 64.8C613.3 64.8 616.7 64.0 620.0 63.0C623.3 62.0 626.7 60.6 630.0 59.0C633.3 57.4 636.7 55.2 640.0 53.5C643.3 51.8 646.7 50.2 650.0 48.5C653.3 46.8 657.9 44.6 660.0 43.5C662.1 42.4 659.2 44.2 662.5 42.0C665.8 39.8 677.1 32.0 680.0 30.0Z" fill="#0000FF"/>
<path d="M572.0 30.0C573.8 32.0 579.5 39.0 582.5 42.0C585.5 45.0 587.5 46.4 590.0 48.0C592.5 49.6 594.8 50.7 597.5 51.5C600.2 52.3 603.3 53.0 606.2 53.0C609.2 53.0 612.3 52.3 615.0 51.5C617.7 50.7 620.0 49.6 622.5 48.0C625.0 46.4 627.1 45.0 630.0 42.0C632.9 39.0 638.3 32.0 640.0 30.0Z" fill="#0000B0"/>
<path d="M518.0 146.0C519.0 145.0 520.5 143.9 523.0 143.5C525.5 143.1 529.7 142.9 533.0 143.5C536.3 144.1 540.6 145.9 543.0 147.2C545.4 148.6 547.3 149.6 547.5 151.5C547.7 153.4 546.2 156.1 544.2 158.5C542.2 160.9 538.2 164.2 535.5 166.0C532.8 167.8 530.3 169.2 528.0 169.0C525.7 168.8 523.4 166.9 521.8 164.8C520.1 162.6 518.8 158.5 518.0 156.0C517.2 153.5 516.8 151.4 516.8 149.8C516.8 148.1 517.0 147.0 518.0 146.0Z" fill="#15FFE2"/>
</g>
<g fill="none" stroke="#5c5c5c" stroke-width="0.7" stroke-linejoin="round" stroke-linecap="round">
<path d="M73.2 43.5 79.0 44.0 84.9 43.5 87.4 46.0 90.7 48.0 91.6 46.9 97.4 47.4 104.1 48.0 110.8 50.2 117.5 52.7 124.2 55.7 130.0 58.6 133.4 61.9 134.2 64.7 131.7 67.4 126.7 69.1 120.8 70.3 114.1 69.4 107.4 68.1 100.8 66.4 94.1 64.7 89.1 63.1 84.9 62.4 82.7 62.2 86.6 64.7 90.7 67.8 94.9 69.4 97.4 71.9 98.3 76.1 99.1 79.8 101.6 82.0 105.8 83.6 109.1 85.3 113.3 86.1 116.6 84.5 115.8 82.8 111.6 82.0 108.8 79.8 109.1 77.4 112.5 76.4 117.5 77.8 122.5 79.8 127.5 80.3 129.2 78.6 126.7 76.1 125.5 73.6 128.3 71.4 133.4 69.4 137.5 67.4 140.9 65.7 144.2 67.8 147.6 69.4 149.6 70.3 150.6 66.9 151.2 63.6 149.2 60.2 148.4 56.9 150.1 53.5 146.7 51.9 145.4 51.4 150.1 52.7 155.1 52.4 160.1 52.7 163.4 55.2 161.8 57.4 157.6 58.6 154.2 60.2 156.7 62.7 161.8 64.1 166.8 63.6 170.1 61.1 172.6 58.6 175.1 57.4 181.0 55.7 186.8 53.5 192.0 52.2"/>
<path d="M172.6 48.0 175.1 45.7 179.3 45.7 182.3 47.7 181.0 50.2 176.3 51.0 173.5 50.2Z"/>
<path d="M97.1 94.8 99.9 93.8 102.8 96.5 105.4 100.8 106.8 104.2 104.1 106.2 99.4 104.5 102.8 102.8 99.9 99.2 96.6 97.5Z"/>
<path d="M73.2 103.7 77.4 100.8 82.4 102.8 85.7 105.4 88.2 108.2 85.7 110.9 81.5 112.0 79.0 113.7 76.5 110.4 74.4 107.0Z"/>
<path d="M192.0 52.7 196.2 51.0 200.4 50.2 202.4 49.6 202.0 53.8 199.9 54.4 204.5 53.8 207.7 55.2 210.8 52.7 215.0 51.7 221.2 51.0 225.4 49.6 230.6 49.0 232.7 51.0 233.8 53.8 236.9 52.3 239.0 51.0 240.5 48.5 239.0 45.4 236.9 43.9 232.7 43.3 230.6 42.3"/>
<path d="M236.9 43.9 244.2 44.4 252.6 44.8 260.9 46.9 269.3 49.0 276.6 51.0 280.8 53.1 282.9 54.4 285.0 52.3 283.9 49.6 280.8 47.5 277.6 45.4 274.5 44.8 272.4 43.3"/>
<path d="M304.8 42.3 305.8 46.4 307.9 49.6 311.1 51.7 309.0 54.8 305.8 57.9 302.7 61.1 299.6 64.2 296.4 65.7 291.2 65.2 286.0 64.8 285.0 66.3 289.1 67.3 294.3 67.7 300.6 68.4"/>
<path d="M311.1 51.7 315.2 50.6 319.4 49.6 323.6 48.1 327.8 48.5 329.9 51.7 330.9 55.8 334.0 58.6 339.3 59.0 334.0 57.9 330.9 56.9"/>
<path d="M310.0 42.3 311.1 45.4 315.2 47.5 317.3 49.6"/>
<path d="M474.3 171.3 480.6 170.1 488.1 166.3 495.6 160.1 500.6 153.8 504.4 147.5 506.9 143.8 508.7 143.8 508.2 148.8 505.6 155.0 503.6 158.8 501.9 160.1 498.1 163.8 491.9 168.3 485.6 171.8 479.3 173.3 475.1 172.6Z"/>
<path d="M727.0 114.7 724.5 115.0 722.8 116.7 721.2 118.0 719.5 116.7 715.3 117.5 710.3 116.7 707.0 118.0 702.0 116.7 696.2 116.7 690.3 117.5 685.3 119.2 680.3 122.5 677.0 125.8 673.7 129.2 669.5 132.5 665.3 135.8 661.2 140.0 657.0 143.3 652.8 146.7 649.5 148.3 646.7 149.2 647.8 150.8 651.2 151.7 654.5 153.3 655.3 156.7 657.8 157.5 658.7 155.0 661.2 156.7 663.7 158.3 665.3 156.7 666.2 154.2 669.5 153.3 672.0 153.7 673.7 156.7 676.2 159.2 678.7 161.7 680.3 163.0 681.2 166.7 680.3 170.0 678.7 173.3 676.7 178.3 675.7 183.3 675.3 188.3 673.7 193.3 671.2 197.5 668.7 200.0"/>
<path d="M680.3 163.0 682.8 161.7 684.5 159.2 687.0 157.5 688.7 155.8 687.8 153.3 686.2 153.7 687.0 155.8 684.5 160.0 682.8 164.2 682.0 168.3 682.8 173.3 683.7 178.3 684.0 183.3 683.3 188.3 684.0 193.3 684.5 200.0"/>
<path d="M688.7 155.8 689.5 157.5 690.3 163.3 690.7 170.0 691.7 176.7 693.3 183.3 695.3 188.3 697.8 192.5 698.7 193.3 697.0 190.8 693.7 190.0 691.2 190.8 689.5 193.3 688.7 196.7 687.8 200.0"/>
<path d="M655.3 148.3 657.3 147.5 658.7 149.2 656.7 150.0Z"/>
<path d="M659.5 148.3 661.7 148.0 662.3 149.7 660.3 150.3Z"/>
<path d="M73.2 213.4 77.4 210.1 80.7 207.5 82.4 205.0 83.2 208.4 85.7 210.1 84.9 211.4 89.1 210.9 90.7 212.6 88.2 215.1 87.4 217.6 90.7 219.2 92.4 222.6 96.6 222.6 99.9 220.1 104.9 218.7 109.1 217.6 113.3 215.1 114.1 212.6 117.5 211.4 118.3 209.2 115.0 208.0 114.1 206.7 119.1 205.9 122.5 204.7 121.7 203.4 117.5 204.2 112.5 205.0 107.4 206.7 103.3 208.0 99.9 209.7 98.8 211.7 100.8 215.1 103.3 217.6 104.9 218.7"/>
<path d="M109.1 217.6 112.5 220.9 117.5 223.4 122.5 226.8 127.5 230.9 132.5 234.3 135.9 237.6 136.2 241.0 134.2 244.3 130.0 246.8 124.2 248.2 117.5 247.7 112.5 246.8 108.3 245.1 104.9 243.1 101.6 241.0 98.3 240.1 94.1 240.5 89.1 241.0 84.9 242.6 80.7 245.1 76.5 247.2 73.2 248.5"/>
<path d="M73.2 281.1 76.5 280.2 80.7 281.6 85.7 282.7 90.7 281.9 94.9 281.1 98.3 278.6 101.6 277.7 104.9 277.2 105.8 279.4 104.1 282.7 104.9 286.1 104.1 289.9"/>
<path d="M104.1 280.0 103.8 285.0 104.1 290.0 103.3 295.9 101.6 300.9 99.9 305.9 98.3 310.1 96.6 313.4 94.1 315.9 90.7 317.1 86.6 317.6 83.2 317.1 80.7 315.4 77.4 315.1 73.2 315.9"/>
<path d="M84.9 290.0 87.4 287.5 90.7 286.7 94.1 286.4 96.6 285.3 93.2 288.4 90.7 289.7 89.1 292.5 86.6 293.0Z"/>
<path d="M94.9 341.0 92.4 336.0 89.1 331.8 86.6 328.5 85.4 326.5 86.6 330.1 88.2 334.3 90.4 338.5 92.4 343.5 94.1 348.5 95.8 353.5 97.4 358.5 99.9 363.6 102.1 368.6 103.8 373.6 104.9 379.9"/>
<path d="M94.9 341.0 96.6 336.8 98.3 331.8 99.4 329.3 99.1 333.5 99.9 338.5 101.6 343.5 104.1 348.5 106.6 353.5 109.1 357.7 111.6 362.7 114.1 366.9 117.5 371.9 120.0 376.1 121.7 379.9"/>
<path d="M101.6 358.6 105.4 368.6 109.1 378.6 112.9 388.6 116.6 398.7 120.4 408.7 124.2 418.7 126.7 427.5 125.4 431.2 127.9 428.7 130.4 433.7 134.2 441.3 139.2 448.8 142.9 455.0 140.4 456.8 146.7 460.8 151.7 464.3 158.0 462.6 164.3 460.8 171.8 458.8 179.3 456.3 186.8 453.8 188.6 455.0 188.1 461.3 186.8 466.3"/>
<path d="M114.1 363.6 117.9 373.6 121.6 383.6 126.7 393.6 131.7 403.7 136.7 413.7 139.2 421.2 141.7 430.0 142.9 438.8 144.2 446.3 146.7 449.3 154.2 447.5 164.3 443.8 174.3 438.8 184.3 433.7 194.3 425.0 204.4 418.7 214.4 411.2 221.9 403.7 226.9 396.2 231.9 388.6 236.4 380.6 234.4 376.1 229.4 371.1 224.4 365.6 220.6 361.1 217.4 356.1 215.9 349.8"/>
<path d="M199.6 450.0 202.6 448.8 205.6 450.0 202.6 451.5Z"/>
<path d="M110.6 453.3 112.1 451.8 113.6 453.3 112.1 454.8Z"/>
<path d="M170.1 329.3 170.9 326.0 173.4 324.3 176.7 322.6 178.4 324.8 180.9 324.3 183.4 327.6 185.9 332.6 188.4 337.7 191.8 341.0 196.0 344.3 200.1 346.8 204.3 348.9 208.5 350.2 211.8 348.5 214.3 346.8 216.8 346.0 218.5 347.7 219.4 351.0 220.2 354.4 222.7 356.5 226.9 357.2 231.9 358.2 236.9 358.5 243.6 359.9 250.3 359.4 257.0 358.5 263.6 358.5 270.3 357.7 272.8 359.4 273.7 363.6 276.2 367.7 278.0 369.4"/>
<path d="M170.1 329.3 171.4 333.5 173.4 338.5 175.9 343.2 179.2 346.8 181.8 349.4 182.6 353.5 184.3 358.5 185.9 361.9 186.8 358.5 187.6 354.4 189.3 353.5 190.1 357.7 189.8 362.7 189.3 366.1 191.8 367.7 196.0 366.9 200.1 366.6 203.5 367.2 206.0 365.2 208.5 362.7 211.0 358.5 213.5 355.2 215.5 351.9 216.3 354.4 216.0 358.5 216.8 363.6 219.4 367.7 222.7 371.1 226.9 373.6 230.2 376.9 232.7 379.9"/>
<path d="M169.2 214.7 172.6 212.6 176.7 209.2 181.8 206.4 187.6 204.7 191.8 205.9 195.1 205.4 198.1 206.4 198.8 210.1 197.6 214.2 196.0 216.4 198.5 217.1 195.1 216.7 190.9 217.1 188.4 218.7 189.3 221.8 187.6 223.1 185.1 222.6 183.4 224.3 185.9 225.9 186.8 229.3 189.3 231.8 192.6 234.3 195.1 237.6 194.8 241.0 196.0 244.3 198.5 241.0 201.0 239.8 203.5 241.0 206.0 244.3 207.7 247.7 206.0 249.8 202.6 250.2 199.3 248.8 197.6 251.0 196.8 254.3 198.5 256.8 200.1 258.5 199.3 261.0 201.0 263.5 202.1 267.7 202.6 272.7 203.1 276.9 200.1 277.2 196.0 278.2 191.8 279.4 187.6 278.6 183.4 276.6 180.1 274.4 177.6 271.9 175.9 267.7 175.4 263.5 176.7 259.4 178.4 256.0 180.9 253.5 183.4 252.2 180.9 251.0 177.6 247.7 175.1 243.5 172.6 239.3 170.1 235.1 168.4 231.8 167.5 228.4 165.9 225.9 163.7 223.1 165.9 219.2 168.0 216.7Z"/>
<path d="M309.9 213.6 312.4 209.8 317.4 207.3 323.7 206.6 331.2 208.1 337.5 207.3 340.7 208.6 338.7 210.6 332.4 210.6 326.2 209.3 319.9 209.1 316.2 211.1 313.1 214.8 312.4 218.6 310.6 217.3Z"/>
<path d="M256.0 358.1 263.5 358.6 271.0 359.1 272.3 357.3 274.8 362.3 278.6 367.3 283.6 369.8 282.3 372.3 287.3 376.1 293.6 375.6 291.1 378.6 286.1 379.9 288.6 383.6 293.6 389.9 299.9 390.6 302.4 386.1 303.6 381.1 306.1 382.4 307.4 386.1 304.9 389.9 305.6 398.7 307.4 408.7 309.9 418.7 313.1 428.7 316.2 438.8 319.2 448.8 321.7 457.6 324.2 467.6"/>
<path d="M341.7 467.6 343.7 456.3 345.7 446.3 345.0 436.3 347.5 427.5 352.5 422.5 357.5 418.7 363.8 411.2 370.0 403.7 376.3 397.4 381.3 392.4 385.1 386.1 388.8 382.4 392.6 383.6 396.4 382.4 400.1 379.9 402.6 376.1 403.9 372.3 405.9 378.6 408.4 379.9 410.1 384.9 413.9 392.4 418.9 398.7 421.4 403.7 420.2 408.7 422.7 416.2 424.4 422.5 427.7 425.0 431.4 422.5 435.2 420.0 438.5 417.5 441.0 420.0 442.7 428.7 444.0 438.8 445.2 448.8 446.0 458.8 448.0 466.3"/>
<path d="M415.9 443.3 414.4 448.8 413.4 456.3 414.4 462.6"/>
<path d="M448.0 453.8 451.8 448.8 454.3 443.8 458.0 443.3 460.0 447.5 463.0 452.5 468.1 456.3 471.8 461.3 475.6 465.1 480.6 467.6"/>
<path d="M572.1 336.0 568.3 341.0 564.5 347.3 562.0 352.3 559.5 357.3 555.8 362.3 550.8 367.3 545.7 372.3 539.5 376.1 533.2 377.4 528.2 376.1 523.2 381.1 518.2 384.9 513.2 386.1 510.7 389.9 506.9 388.6 503.1 384.9 499.4 384.9 495.6 387.4 491.9 391.1 488.1 394.9 485.6 401.2 486.8 408.7 490.6 414.9 495.6 421.2 500.6 428.7 504.4 436.3 506.1 443.8 505.6 451.3 501.9 457.6 496.9 461.3 491.9 465.1 488.1 467.6"/>
<path d="M501.9 402.4 504.4 397.4 509.4 396.2 513.7 398.7 513.2 403.7 509.4 408.2 504.4 409.2 501.9 406.2Z"/>
<path d="M565.3 368.6 567.8 362.3 571.3 359.8 573.8 362.3 572.8 369.8 570.3 377.4 567.8 381.1 565.3 376.1Z"/>
<path d="M567.0 408.7 570.8 406.7 574.6 407.4 576.3 411.2 577.1 418.7 574.6 425.0 572.8 431.2 573.3 436.3 577.1 438.8 580.8 440.0 584.6 442.5 587.1 440.0 585.8 446.3 588.4 451.3 592.1 450.0 593.4 456.3 594.6 463.8 593.4 467.6"/>
<path d="M567.0 408.7 565.8 416.2 563.3 423.7 562.0 431.2 565.8 436.3 568.3 435.0 567.0 441.3 565.8 446.3 569.6 450.0 572.1 447.5 574.6 443.8 577.1 447.5 575.8 453.8 578.3 458.8 582.1 461.3 584.6 457.6 587.1 461.3 585.8 466.3"/>
<path d="M557.0 467.6 560.8 460.1 563.8 453.8 565.0 451.8"/>
<path d="M583.3 366.1 585.8 365.1"/>
<path d="M591.6 363.6 593.9 362.6"/>
<path d="M606.4 352.3 608.4 348.5"/>
<path d="M613.4 342.3 615.4 338.0"/>
<path d="M570.3 401.7 571.3 403.2"/>
<path d="M572.8 392.4 573.8 394.1"/>
<path d="M551.0 262.7 552.7 261.1 556.1 261.4 559.4 259.4 561.1 256.1 564.4 253.5 567.8 251.0 570.3 249.0 573.6 248.5 575.8 250.2 575.3 252.7 572.8 254.7 570.3 256.9 569.4 260.2 570.3 262.7 571.9 261.1 575.3 258.6 579.4 256.4 584.5 255.7 589.5 257.4 592.0 258.6 592.8 261.9 591.1 265.2 589.5 268.6 592.8 269.4 596.2 270.3 599.5 271.1 600.3 275.3 598.7 277.8 600.3 281.1 599.8 285.3 598.7 289.5 597.8 293.7 599.5 294.8 602.8 292.8 607.0 291.1 611.2 290.3 613.7 288.6 615.4 284.5 614.5 279.4 613.7 274.4 612.0 269.4 609.5 265.2 607.0 261.9 604.5 259.4 604.5 256.9 607.9 254.4 612.0 251.9 615.4 248.5 617.0 244.4 618.7 241.0 621.2 237.7 624.6 236.0"/>
<path d="M551.0 262.7 551.9 265.2 554.4 266.9 556.9 269.4 557.7 272.8 559.4 275.3 562.7 274.4 565.2 271.9 567.8 270.8 571.1 271.9 573.6 273.6 576.9 274.1 577.8 276.1 575.3 277.4 571.9 278.1 568.6 279.8 566.1 281.1 564.4 283.6 561.9 285.3 560.2 287.8 559.4 291.1 561.1 293.7 564.4 296.2 566.1 299.5 566.9 302.8 567.8 307.0 569.4 310.4 571.9 312.9 568.6 312.0 565.2 311.2 567.8 313.2 570.3 314.5 571.9 316.2 573.6 317.9 570.3 319.6 567.8 321.2 565.2 323.7 568.6 323.7 571.9 322.9 573.6 325.4 576.1 326.2 574.4 328.7 572.8 332.1 571.9 335.9"/>
<path d="M597.2 302.3 598.8 301.0 601.2 301.2 600.8 302.5 598.5 303.3Z"/>
<path d="M614.5 293.7 615.0 295.8"/>
<path d="M616.2 298.7 616.7 300.3"/>
<path d="M611.2 307.0 612.9 305.4"/>
<path d="M622.6 271.9 623.4 272.8"/>
<path d="M635.6 281.1 636.4 282.0"/>
<path d="M675.5 186.0 674.3 193.5 670.5 201.0 664.2 208.6 656.7 216.1 649.2 223.6 641.7 229.9 636.7 233.6 632.9 233.1 629.6 231.6 625.4 234.9 620.4 238.6 615.4 244.9 610.3 251.2 605.3 256.2 604.1 259.9"/>
<path d="M683.9 186.0 685.1 192.3 686.4 198.5 687.6 204.8 688.9 209.8 691.4 211.1 692.6 207.3 690.1 203.5 689.4 197.3 691.4 191.0 693.9 187.3 696.4 191.0 697.7 193.0"/>
<path d="M678.9 216.1 682.6 217.3 686.4 219.8 688.9 223.6 692.6 226.1 697.7 227.4 701.4 226.1 705.2 223.6 702.7 227.4 698.9 231.1 695.1 233.6 691.4 237.4 686.4 239.1 681.4 238.6 677.6 237.4 675.1 239.9 678.9 242.4 680.1 245.6 677.6 247.4 675.1 244.1 672.6 242.4 671.3 238.6 673.8 234.9 676.4 231.1 678.9 227.4 680.1 222.3Z"/>
<path d="M702.7 226.1 706.4 224.1 710.2 223.1"/>
<path d="M711.4 221.1 715.2 219.1 717.7 217.3"/>
<path d="M720.2 216.1 724.0 214.1 727.7 212.3"/>
<path d="M678.5 245.0 681.0 250.0 682.7 255.0 681.9 260.1 680.2 264.2 678.5 267.6 676.9 271.8 675.2 275.9 673.5 280.9 672.7 285.1 673.2 288.5 671.9 290.1 670.2 289.3 667.7 291.0 665.2 292.6 661.8 291.8 658.5 293.5 656.0 292.6 655.1 290.1 654.3 291.8 653.5 295.1 651.0 297.7 649.3 301.0 647.6 300.2 646.8 296.8 645.1 294.3 642.6 293.5 640.9 295.1 641.8 297.7 640.1 300.2 637.6 301.0 635.1 302.7 633.4 304.3 631.8 301.8 630.1 298.5 627.6 297.7 625.1 296.0 625.1 294.3 626.7 292.6 629.2 290.1 632.6 288.8 636.8 288.5 640.9 288.1 645.1 286.8 648.5 285.1 650.1 282.6 652.6 280.1 655.1 277.6 656.0 275.1 658.5 273.4 662.7 272.6 666.0 270.1 668.5 266.7 671.0 261.7 672.7 256.7 673.5 250.0 676.0 246.4 678.5 245.0"/>
<path d="M627.6 297.7 630.9 296.0 635.1 294.3 639.3 293.1 642.6 292.6 645.1 293.8"/>
<path d="M630.9 298.8 634.3 297.2 638.4 296.3 641.4 297.7 639.8 300.2 635.9 302.5 632.8 304.0 631.1 301.8Z"/>
<path d="M619.2 303.5 621.7 301.8 624.2 302.7 625.1 306.0 623.4 310.2 622.6 314.4 620.9 317.7 619.2 315.2 619.7 311.0 618.7 306.8Z"/>
<path d="M663.2 267.6 664.5 267.1 664.8 269.7 663.5 270.1Z"/>
<path d="M622.2 272.3 623.1 272.9"/>
<path d="M635.6 281.1 636.4 281.8"/>
<path d="M671.2 303.5 672.0 304.2"/>
<path d="M614.7 293.5 615.4 296.8"/>
<path d="M616.7 298.5 617.2 300.2"/>
<path d="M613.0 304.3 611.7 306.0"/>
<path d="M615.9 303.2 617.5 306.0"/>
<path d="M615.4 337.3 612.8 341.0"/>
<path d="M607.8 348.5 605.3 353.0"/>
<path d="M592.8 362.3 591.5 363.6"/>
<path d="M586.0 364.8 584.0 366.1"/>
<path d="M684.3 348.5 684.8 349.8"/>
<path d="M703.8 404.9 704.3 407.4"/>
<path d="M703.8 421.2 704.3 423.7"/>
<path d="M704.3 430.0 703.1 433.7"/>
<path d="M700.6 438.8 698.6 443.8"/>
</g>
</g>
<rect x="72.1" y="42.3" width="655.1999999999999" height="425.5" fill="none" stroke="#000" stroke-width="1.05"/>
<g stroke="#000" stroke-width="1.05"><line x1="72.10" y1="467.8" x2="72.10" y2="477.8"/><line x1="235.90" y1="467.8" x2="235.90" y2="477.8"/><line x1="399.70" y1="467.8" x2="399.70" y2="477.8"/><line x1="563.50" y1="467.8" x2="563.50" y2="477.8"/><line x1="727.30" y1="467.8" x2="727.30" y2="477.8"/><line x1="62.1" y1="42.30" x2="72.1" y2="42.30"/><line x1="62.1" y1="184.13" x2="72.1" y2="184.13"/><line x1="62.1" y1="325.97" x2="72.1" y2="325.97"/><line x1="62.1" y1="467.80" x2="72.1" y2="467.80"/></g>
<g><rect x="105.10" y="531.8" width="589.68" height="28.9" fill="#0000B0"/><rect x="154.24" y="531.8" width="540.54" height="28.9" fill="#0000FF"/><rect x="203.38" y="531.8" width="491.40" height="28.9" fill="#0055FF"/><rect x="252.52" y="531.8" width="442.26" height="28.9" fill="#00AAFF"/><rect x="301.66" y="531.8" width="393.12" height="28.9" fill="#15FFE2"/><rect x="350.80" y="531.8" width="343.98" height="28.9" fill="#59FF9E"/><rect x="399.94" y="531.8" width="294.84" height="28.9" fill="#9EFF59"/><rect x="449.08" y="531.8" width="245.70" height="28.9" fill="#E2FF15"/><rect x="498.22" y="531.8" width="196.56" height="28.9" fill="#FFBE00"/><rect x="547.36" y="531.8" width="147.42" height="28.9" fill="#FF7000"/><rect x="596.50" y="531.8" width="98.28" height="28.9" fill="#FF2100"/><rect x="645.64" y="531.8" width="49.14" height="28.9" fill="#B00000"/></g>
</svg>
<div class="t" style="left:72px;top:8.4px;transform:scaleX(0.983);transform-origin:left center;">850hPa Potential Temperature</div>
<div class="t" style="right:37.5px;top:8.4px;transform:scaleX(0.983);transform-origin:right center;">2013-05-25_20:00:00</div>
<div class="xl" style="left:22.5px">30°E</div><div class="xl" style="left:186.3px">60°E</div><div class="xl" style="left:350.1px">90°E</div><div class="xl" style="left:513.9px">120°E</div><div class="xl" style="left:677.7px">150°E</div><div class="yl" style="top:31.8px">70°N</div><div class="yl" style="top:173.6px">50°N</div><div class="yl" style="top:315.5px">30°N</div><div class="yl" style="top:457.3px">10°N</div><div class="cl" style="left:55.1px">315</div><div class="cl" style="left:153.4px">325</div><div class="cl" style="left:251.7px">335</div><div class="cl" style="left:349.9px">345</div><div class="cl" style="left:448.2px">355</div><div class="cl" style="left:546.5px">365</div><div class="cl" style="left:644.8px">375</div>
</body></html>
